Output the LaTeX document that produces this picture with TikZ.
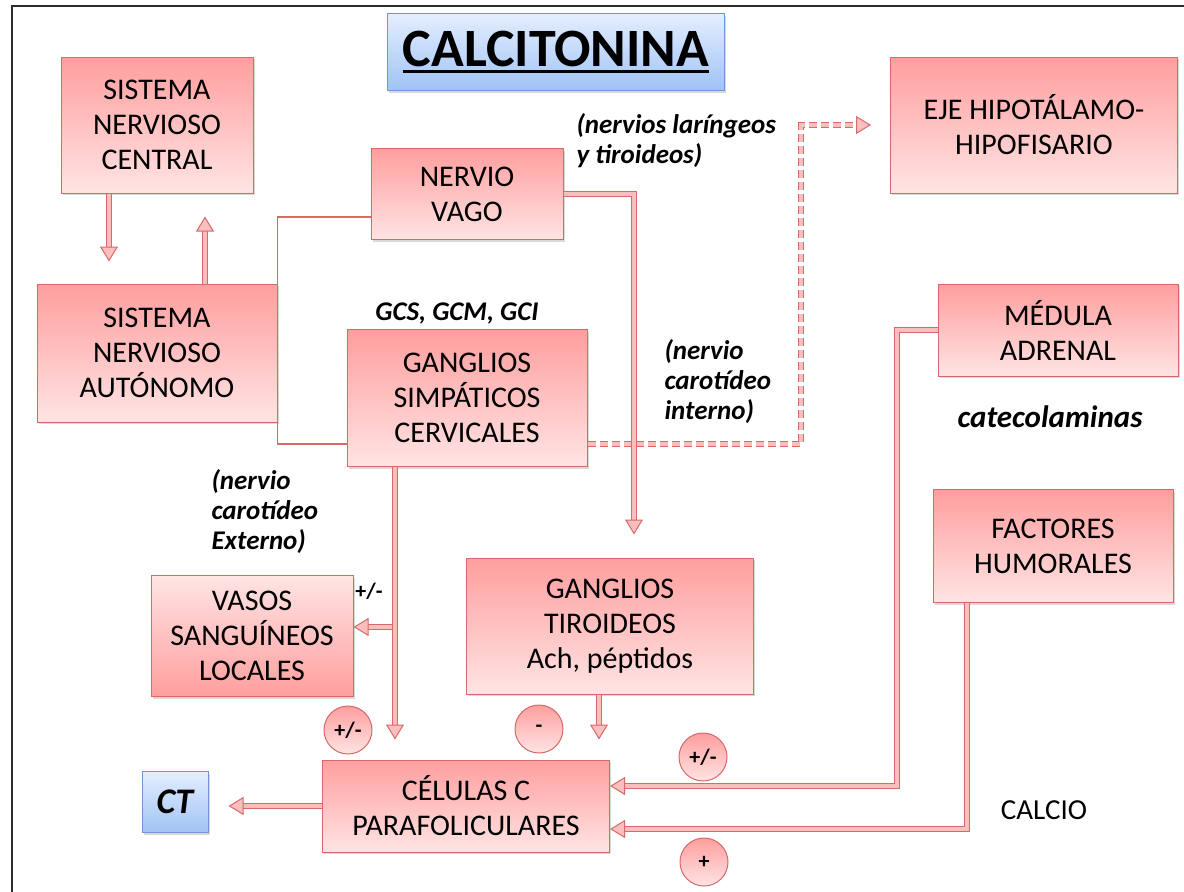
\documentclass[tikz,border=0pt]{standalone}
\usepackage{fontspec}
\setmainfont{Carlito}
\usetikzlibrary{positioning,arrows.meta,shadows}
\definecolor{CTRed}{RGB}{214,106,106}
\definecolor{CTRose}{RGB}{255,158,158}
\definecolor{CTPale}{RGB}{255,228,228}
\definecolor{CTArrow}{RGB}{250,190,190}
\definecolor{CTBlue}{RGB}{110,150,215}
\definecolor{CTSky}{RGB}{228,238,255}
\definecolor{CTMid}{RGB}{160,195,245}
\definecolor{CTFrame}{RGB}{45,45,45}
% thick underline for the heading
\newcommand{\thickul}[1]{\setbox0\hbox{#1}\rlap{\rule[-7pt]{\wd0}{3pt}}\box0}

\begin{document}
\begin{tikzpicture}[
x=1pt,y=-1pt,
box/.style={rectangle,draw=CTRed,line width=1pt,top color=CTRose,bottom color=CTPale,
 align=center,inner sep=0pt,font=\fontsize{30}{35}\selectfont,
 drop shadow={opacity=0.3,shadow xshift=1.5pt,shadow yshift=-2pt}},
bluebox/.style={box,draw=CTBlue,top color=CTSky,bottom color=CTMid},
sign/.style={circle,draw=CTRed,line width=1pt,top color=CTRose,bottom color=CTPale,
 minimum size=48pt,inner sep=0pt,font=\fontsize{22}{22}\selectfont\bfseries},
note/.style={align=left,font=\fontsize{27}{30}\selectfont\bfseries\itshape},
arrow/.style={draw=CTRed,line width=1pt,double=CTArrow,double distance=4pt,
 -{Triangle[length=15pt,width=18pt,fill=CTArrow]}},
dasharrow/.style={arrow,dash pattern=on 8pt off 4pt},
link/.style={draw=CTRed,line width=1.2pt},
frame/.style={draw=CTFrame,line width=2.5pt}
]
\useasboundingbox (0,0) rectangle (1184,892);
\draw[frame] (12,892) |- (1184,6);

% boxes
\node[bluebox,minimum width=337pt,minimum height=77pt,font=\fontsize{54}{54}\selectfont\bfseries] (title) at (556,52) {\thickul{CALCITONINA}};
\node[box,minimum width=192pt,minimum height=136pt] (snc) at (157,125) {SISTEMA\\NERVIOSO\\CENTRAL};
\node[box,minimum width=240pt,minimum height=138pt] (sna) at (157,353) {SISTEMA\\NERVIOSO\\AUTÓNOMO};
\node[box,minimum width=192pt,minimum height=91pt] (vago) at (467,194) {NERVIO\\VAGO};
\node[box,minimum width=240pt,minimum height=137pt] (gsc) at (467,398) {GANGLIOS\\SIMPÁTICOS\\CERVICALES};
\node[box,minimum width=287pt,minimum height=136pt] (eje) at (1034,125) {EJE HIPOTÁLAMO-\\HIPOFISARIO};
\node[box,minimum width=240pt,minimum height=92pt] (medula) at (1058,330) {MÉDULA\\ADRENAL};
\node[box,minimum width=240pt,minimum height=113pt] (humoral) at (1053,546) {FACTORES\\HUMORALES};
\node[box,top color=CTPale,bottom color=CTRose,minimum width=202pt,minimum height=121pt] (vasos) at (252,636) {VASOS\\SANGUÍNEOS\\LOCALES};
\node[box,minimum width=287pt,minimum height=136pt] (tiroid) at (610,626) {GANGLIOS\\TIROIDEOS\\Ach, péptidos};
\node[box,minimum width=287pt,minimum height=92pt] (celulas) at (466,806) {CÉLULAS C\\PARAFOLICULARES};
\node[bluebox,minimum width=66pt,minimum height=61pt,font=\fontsize{36}{36}\selectfont\bfseries\itshape] (ct) at (175,802) {CT};

% labels
\node[note,anchor=west] (laring) at (573,141) {(nervios laríngeos\\y tiroideos)};
\node[note] (gcs) at (457,313) {GCS, GCM, GCI};
\node[note,anchor=west] (carint) at (661,382) {(nervio\\carotídeo\\interno)};
\node[note,anchor=west] (carext) at (208,512) {(nervio\\carotídeo\\Externo)};
\node[note,font=\fontsize{31}{31}\selectfont\bfseries\itshape] (catecol) at (1050,417) {catecolaminas};
\node[font=\fontsize{29}{29}\selectfont] (calcio) at (1044,810) {CALCIO};
\node[font=\fontsize{22}{22}\selectfont\bfseries] (vasosign) at (369,591) {+/-};

% signs
\node[sign] (s1) at (348,730) {+/-};
\node[sign] (s2) at (539,729) {-};
\node[sign] (s3) at (703,757) {+/-};
\node[sign] (s4) at (704,862) {+};

% helper points
\coordinate (gscin) at ([yshift=-46pt]gsc.west);
\coordinate (gscout) at ([yshift=-46pt]gsc.east);
\coordinate (gscdown) at ([xshift=-72pt]gsc.south);
\coordinate (vasosin) at ([yshift=9pt]vasos.east);
\coordinate (vagotip) at ([xshift=24pt,yshift=23pt]tiroid.north);
\coordinate (ejetip) at ([xshift=-19pt]eje.west);
\coordinate (medbend) at ([xshift=-41pt]medula.west);
\coordinate (celin1) at ([yshift=20pt]celulas.east);
\coordinate (celin2) at ([yshift=-23pt]celulas.east);
\coordinate (cttip) at ([xshift=20pt]ct.east);

% connectors
\draw[arrow] ([xshift=-48pt]snc.south) -- ([xshift=-48pt,yshift=22pt]sna.north);
\draw[arrow] ([xshift=48pt]sna.north) -- ([xshift=48pt,yshift=-23pt]snc.south);
\draw[link] ([yshift=-23pt]vago.west) -| (sna.east |- gscin) -- (gscin);
\draw[dasharrow] (gscout) -| ([xshift=-70pt]ejetip) -- (ejetip);
\draw[arrow] (vago.east) -| (vagotip);
\draw[arrow] (gscdown |- vasosin) -- (vasosin);
\draw[arrow] (gscdown) -- ([xshift=-71pt,yshift=20pt]celulas.north);
\draw[arrow] ([xshift=-11pt]tiroid.south) -- ([xshift=133pt,yshift=20pt]celulas.north);
\draw[arrow] (medula.west) -- (medbend) |- (celin1);
\draw[arrow] ([xshift=-86pt]humoral.south) |- (celin2);
\draw[arrow] (celulas.west) -- (celulas.west -| cttip);
\end{tikzpicture}
\end{document}
